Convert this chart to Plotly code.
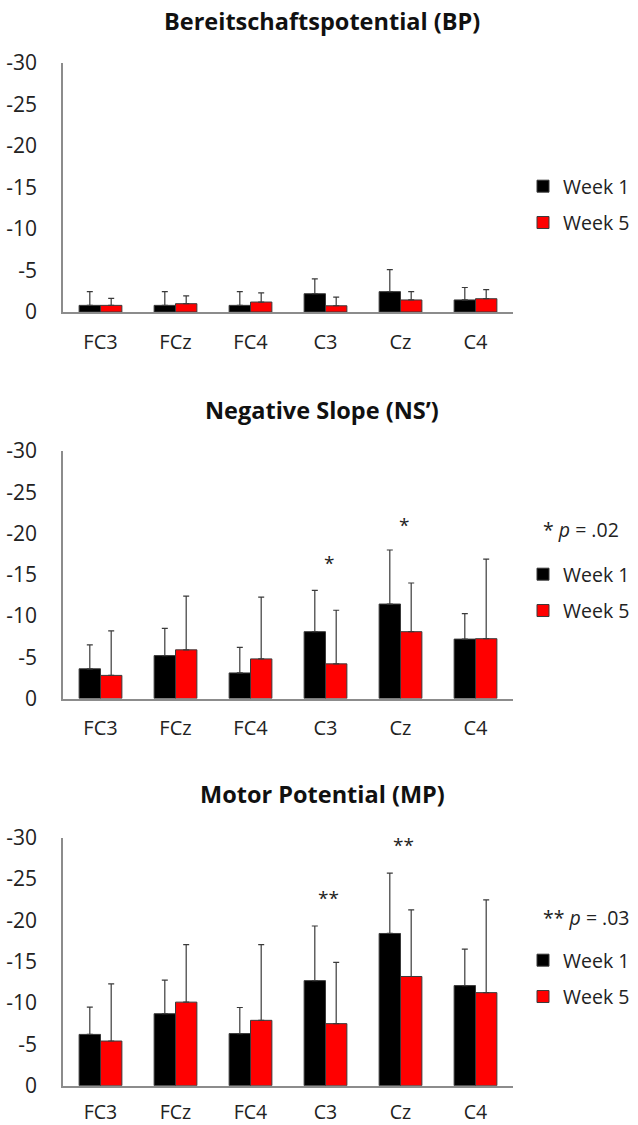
import plotly.graph_objects as go

W, H = 638, 1125

electrodes = ["FC3", "FCz", "FC4", "C3", "Cz", "C4"]
series_names = ["Week 1", "Week 5"]
ytick_vals = [0, -5, -10, -15, -20, -25, -30]
ytick_text = ["0", "-5", "-10", "-15", "-20", "-25", "-30"]

# Bereitschaftspotential (BP)
bp_week1 = [-0.8, -0.8, -0.8, -2.2, -2.45, -1.45]
bp_week1_err = [1.65, 1.65, 1.65, 1.8, 2.65, 1.5]
bp_week5 = [-0.8, -1.0, -1.2, -0.75, -1.45, -1.6]
bp_week5_err = [0.85, 0.95, 1.1, 1.05, 1.0, 1.1]

# Negative Slope (NS')
ns_week1 = [-3.6, -5.2, -3.1, -8.1, -11.45, -7.2]
ns_week1_err = [2.9, 3.3, 3.1, 5.0, 6.55, 3.1]
ns_week5 = [-2.8, -5.9, -4.8, -4.2, -8.1, -7.25]
ns_week5_err = [5.4, 6.5, 7.5, 6.5, 5.9, 9.65]

# Motor Potential (MP)
mp_week1 = [-6.2, -8.7, -6.3, -12.7, -18.4, -12.1]
mp_week1_err = [3.3, 4.05, 3.15, 6.6, 7.3, 4.4]
mp_week5 = [-5.4, -10.1, -7.9, -7.5, -13.2, -11.25]
mp_week5_err = [6.9, 6.95, 9.15, 7.4, 8.05, 11.2]

titles = ["Bereitschaftspotential (BP)", "Negative Slope (NS\u2019)", "Motor Potential (MP)"]
panels = [
    (bp_week1, bp_week1_err, bp_week5, bp_week5_err),
    (ns_week1, ns_week1_err, ns_week5, ns_week5_err),
    (mp_week1, mp_week1_err, mp_week5, mp_week5_err),
]
sig_notes = [None, "* <i>p</i> = .02", "** <i>p</i> = .03"]
sig_marks = [[], [("C3", -16.4, "*"), ("Cz", -21.0, "*")],
             [("C3", -22.65, "**"), ("Cz", -29.1, "**")]]

FONT = "Open Sans"
colors = ["#000000", "#ff0000"]

# pixel geometry
x_left, x_right = 63, 513
panel_px = [(63, 312), (451, 698.5), (837.5, 1085.7)]  # (top, bottom)
title_y = [21, 410, 794]
legend_top = [167, 555, 941]
note_y = [None, 530, 918]
xlabel_standoff = [11, 11, 8]


def py(p):
    return 1 - p / H


def px(p):
    return p / W


fig = go.Figure()
annotations = []
for i, (w1, e1, w5, e5) in enumerate(panels):
    k = "" if i == 0 else str(i + 1)
    xa, ya = "x" + k, "y" + k
    leg = "legend" + k
    for name, vals, errs, col in [(series_names[0], w1, e1, colors[0]),
                                  (series_names[1], w5, e5, colors[1])]:
        fig.add_trace(go.Bar(
            x=electrodes, y=vals, name=name, xaxis=xa, yaxis=ya,
            marker=dict(color=col, line=dict(color="#3a3a3a", width=1)),
            error_y=dict(type="data", symmetric=False, array=[0] * len(errs),
                         arrayminus=errs, color="#3a3a3a", thickness=1.2, width=3),
            legend=leg, legendgroup=name + k, showlegend=True,
        ))
    top, bot = panel_px[i]
    fig.update_layout(**{
        "xaxis" + k: dict(domain=[px(x_left), px(x_right)], anchor=ya,
                          showline=True, linecolor="#8c8c8c", linewidth=1.5,
                          ticks="", showgrid=False, zeroline=False,
                          tickfont=dict(family=FONT, size=20 if i < 2 else 19.5, color="#222"),
                          ticklabelstandoff=xlabel_standoff[i], fixedrange=True),
        "yaxis" + k: dict(domain=[py(bot), py(top)], anchor=xa,
                          range=[0, -30], tickvals=ytick_vals, ticktext=ytick_text,
                          showline=True, linecolor="#8c8c8c", linewidth=1.5,
                          ticks="", showgrid=False, zeroline=False,
                          tickfont=dict(family=FONT, size=21, color="#222"),
                          ticklabelstandoff=20),
        leg: dict(x=px(523), y=py(legend_top[i]), xanchor="left", yanchor="top",
                  traceorder="grouped", tracegroupgap=8,
                  font=dict(family=FONT, size=19.5, color="#222"),
                  bgcolor="rgba(0,0,0,0)", itemwidth=30),
    })
    annotations.append(dict(text="<b>" + titles[i] + "</b>", x=px(322), y=py(title_y[i]),
                            xref="paper", yref="paper", xanchor="center", yanchor="middle",
                            showarrow=False,
                            font=dict(family=FONT, size=23.5, color="#111")))
    if sig_notes[i]:
        annotations.append(dict(text=sig_notes[i], x=px(541), y=py(note_y[i]),
                                xref="paper", yref="paper", xanchor="left",
                                yanchor="middle", showarrow=False,
                                font=dict(family=FONT, size=19.5, color="#222")))
    for cat, yv, txt in sig_marks[i]:
        annotations.append(dict(text=txt, x=cat, y=yv, xref=xa, yref=ya,
                                xshift=3, xanchor="center", yanchor="middle",
                                showarrow=False,
                                font=dict(family=FONT, size=19, color="#222")))

fig.update_layout(
    width=W, height=H, margin=dict(l=0, r=0, t=0, b=0, autoexpand=False),
    paper_bgcolor="white", plot_bgcolor="white",
    barmode="group", bargap=0.43, bargroupgap=0,
    annotations=annotations, showlegend=True,
)

fig.write_html("out.html", config={"displayModeBar": False},
               post_script="document.body.style.margin='0';document.body.style.padding='0';")
